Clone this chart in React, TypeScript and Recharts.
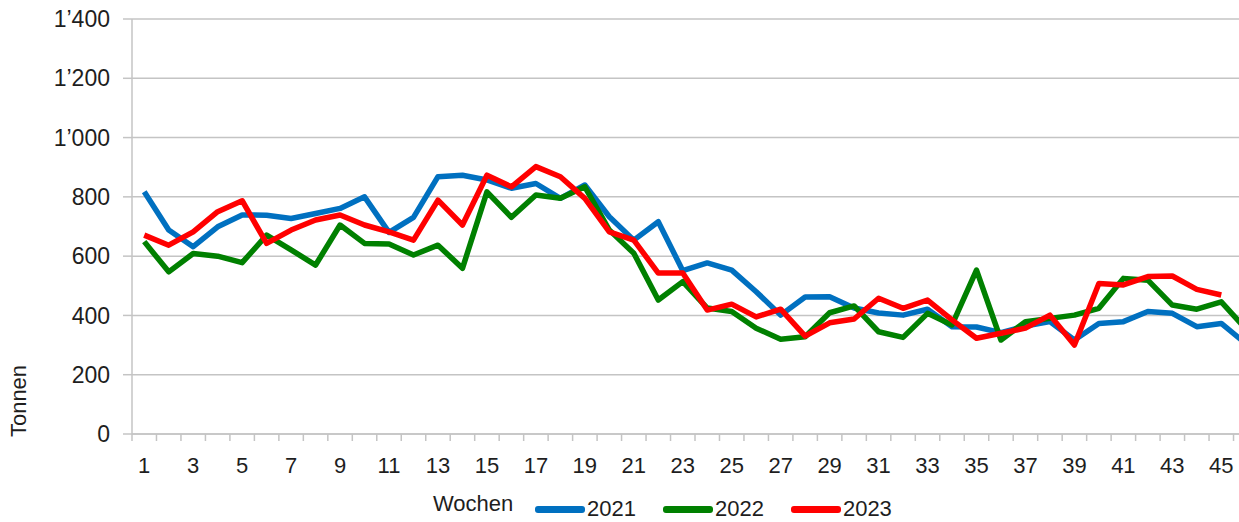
import { CartesianGrid, Label, Legend, Line, LineChart, XAxis, YAxis } from "recharts";

const weeks = [
  1, 2, 3, 4, 5, 6, 7, 8, 9, 10, 11, 12, 13, 14, 15, 16, 17, 18, 19, 20, 21, 22, 23,
  24, 25, 26, 27, 28, 29, 30, 31, 32, 33, 34, 35, 36, 37, 38, 39, 40, 41, 42, 43, 44, 45, 46,
];

const y2021 = [
  817, 688, 632, 699, 739, 738, 727, 744, 761, 800, 680, 731, 868, 873, 857, 829, 845, 795,
  840, 733, 654, 716, 551, 577, 553, 480, 401, 462, 463, 425, 408, 401, 421, 362, 361, 342,
  364, 379, 317, 373, 379, 413, 407, 362, 373, 305,
];

const y2022 = [
  649, 547, 609, 600, 578, 671, 621, 570, 705, 643, 641, 604, 637, 559, 817, 731, 806, 795,
  834, 688, 610, 452, 514, 425, 413, 357, 320, 328, 409, 432, 345, 326, 407, 368, 553, 317,
  379, 390, 401, 424, 525, 519, 435, 421, 446, 355,
];

const y2023 = [
  671, 637, 682, 750, 787, 643, 688, 722, 739, 705, 682, 654, 789, 705, 873, 834, 902, 868,
  795, 682, 654, 543, 543, 418, 438, 395, 421, 330, 375, 388, 458, 424, 452, 385, 323, 340,
  357, 401, 300, 508, 503, 531, 533, 488, 469, null,
];

const yTicks = [0, 200, 400, 600, 800, 1000, 1200, 1400];

const series = [
  { key: "y2021", name: "2021", color: "#0070c0" },
  { key: "y2022", name: "2022", color: "#008000" },
  { key: "y2023", name: "2023", color: "#ff0000" },
];

const data = weeks.map((week, i) => ({
  week,
  y2021: y2021[i],
  y2022: y2022[i],
  y2023: y2023[i],
}));

// band edges for the small tick marks, odd weeks for the labels
const xTicks = [
  ...weeks.map((w) => w - 0.5),
  weeks[weeks.length - 1] + 0.5,
  ...weeks.filter((w) => w % 2 === 1),
].sort((a, b) => a - b);

const FONT = "'Liberation Sans', Arial, Helvetica, sans-serif";
const TEXT = "#1e1e1e";
const GRID = "#c4c4c4";

const fmtThousands = (v: number) => String(v).replace(/\B(?=(\d{3})+(?!\d))/g, "\u2019");

function WeekTick({ x, y, payload }: any) {
  const v = payload.value;
  if (!Number.isInteger(v)) {
    return <line x1={x} x2={x} y1={y} y2={y + 7} stroke={GRID} strokeWidth={1.5} />;
  }
  return (
    <text x={x} y={y + 39} textAnchor="middle" fill={TEXT} fontSize={22} fontFamily={FONT}>
      {v}
    </text>
  );
}

function LegendRow({ payload }: any) {
  return (
    <div style={{ display: "flex", alignItems: "center", fontFamily: FONT, fontSize: 22, color: TEXT }}>
      {(payload || []).map((p: any) => (
        <span key={p.value} style={{ display: "inline-flex", alignItems: "center", marginRight: 27 }}>
          <span
            style={{
              display: "inline-block",
              width: 50,
              height: 7,
              borderRadius: 3,
              background: p.color,
              marginRight: 2,
            }}
          />
          <span style={{ lineHeight: "24px" }}>{p.value}</span>
        </span>
      ))}
    </div>
  );
}

export default function App() {
  return (
    <div
      style={{
        position: "absolute",
        left: 0,
        top: 0,
        width: 1239,
        height: 522,
        overflow: "hidden",
        background: "#fff",
      }}
    >
      <LineChart width={1270} height={522} data={data} margin={{ top: 19, right: 12, left: 0, bottom: 0 }}>
        <CartesianGrid stroke={GRID} strokeWidth={1.5} vertical={false} />
        <XAxis
          dataKey="week"
          type="number"
          domain={[0.5, 46.5]}
          ticks={xTicks}
          interval={0}
          tick={<WeekTick />}
          tickLine={false}
          tickSize={0}
          tickMargin={0}
          height={88}
          axisLine={{ stroke: GRID, strokeWidth: 1.5 }}
          label={
            <Label
              content={() => (
                <text x={433} y={511} fill={TEXT} fontSize={22} fontFamily={FONT}>
                  Wochen
                </text>
              )}
            />
          }
        />
        <YAxis
          width={132}
          domain={[0, 1400]}
          ticks={yTicks}
          interval={0}
          tickFormatter={fmtThousands}
          tick={{ fill: TEXT, fontSize: 23, fontFamily: FONT }}
          tickSize={9}
          tickMargin={13}
          tickLine={{ stroke: GRID, strokeWidth: 1.5 }}
          axisLine={{ stroke: GRID, strokeWidth: 1.5 }}
          label={
            <Label
              content={() => (
                <text
                  x={18}
                  y={401}
                  transform="rotate(-90 18 401)"
                  textAnchor="middle"
                  dominantBaseline="central"
                  fill={TEXT}
                  fontSize={22}
                  fontFamily={FONT}
                >
                  Tonnen
                </text>
              )}
            />
          }
        />
        <Legend
          layout="horizontal"
          verticalAlign="middle"
          align="center"
          content={<LegendRow />}
          wrapperStyle={{ top: 497, left: 535, width: "auto" }}
        />
        {series.map((s) => (
          <Line
            key={s.key}
            type="linear"
            dataKey={s.key}
            name={s.name}
            stroke={s.color}
            strokeWidth={5.5}
            strokeLinejoin="round"
            dot={false}
            activeDot={false}
            isAnimationActive={false}
          />
        ))}
      </LineChart>
    </div>
  );
}
